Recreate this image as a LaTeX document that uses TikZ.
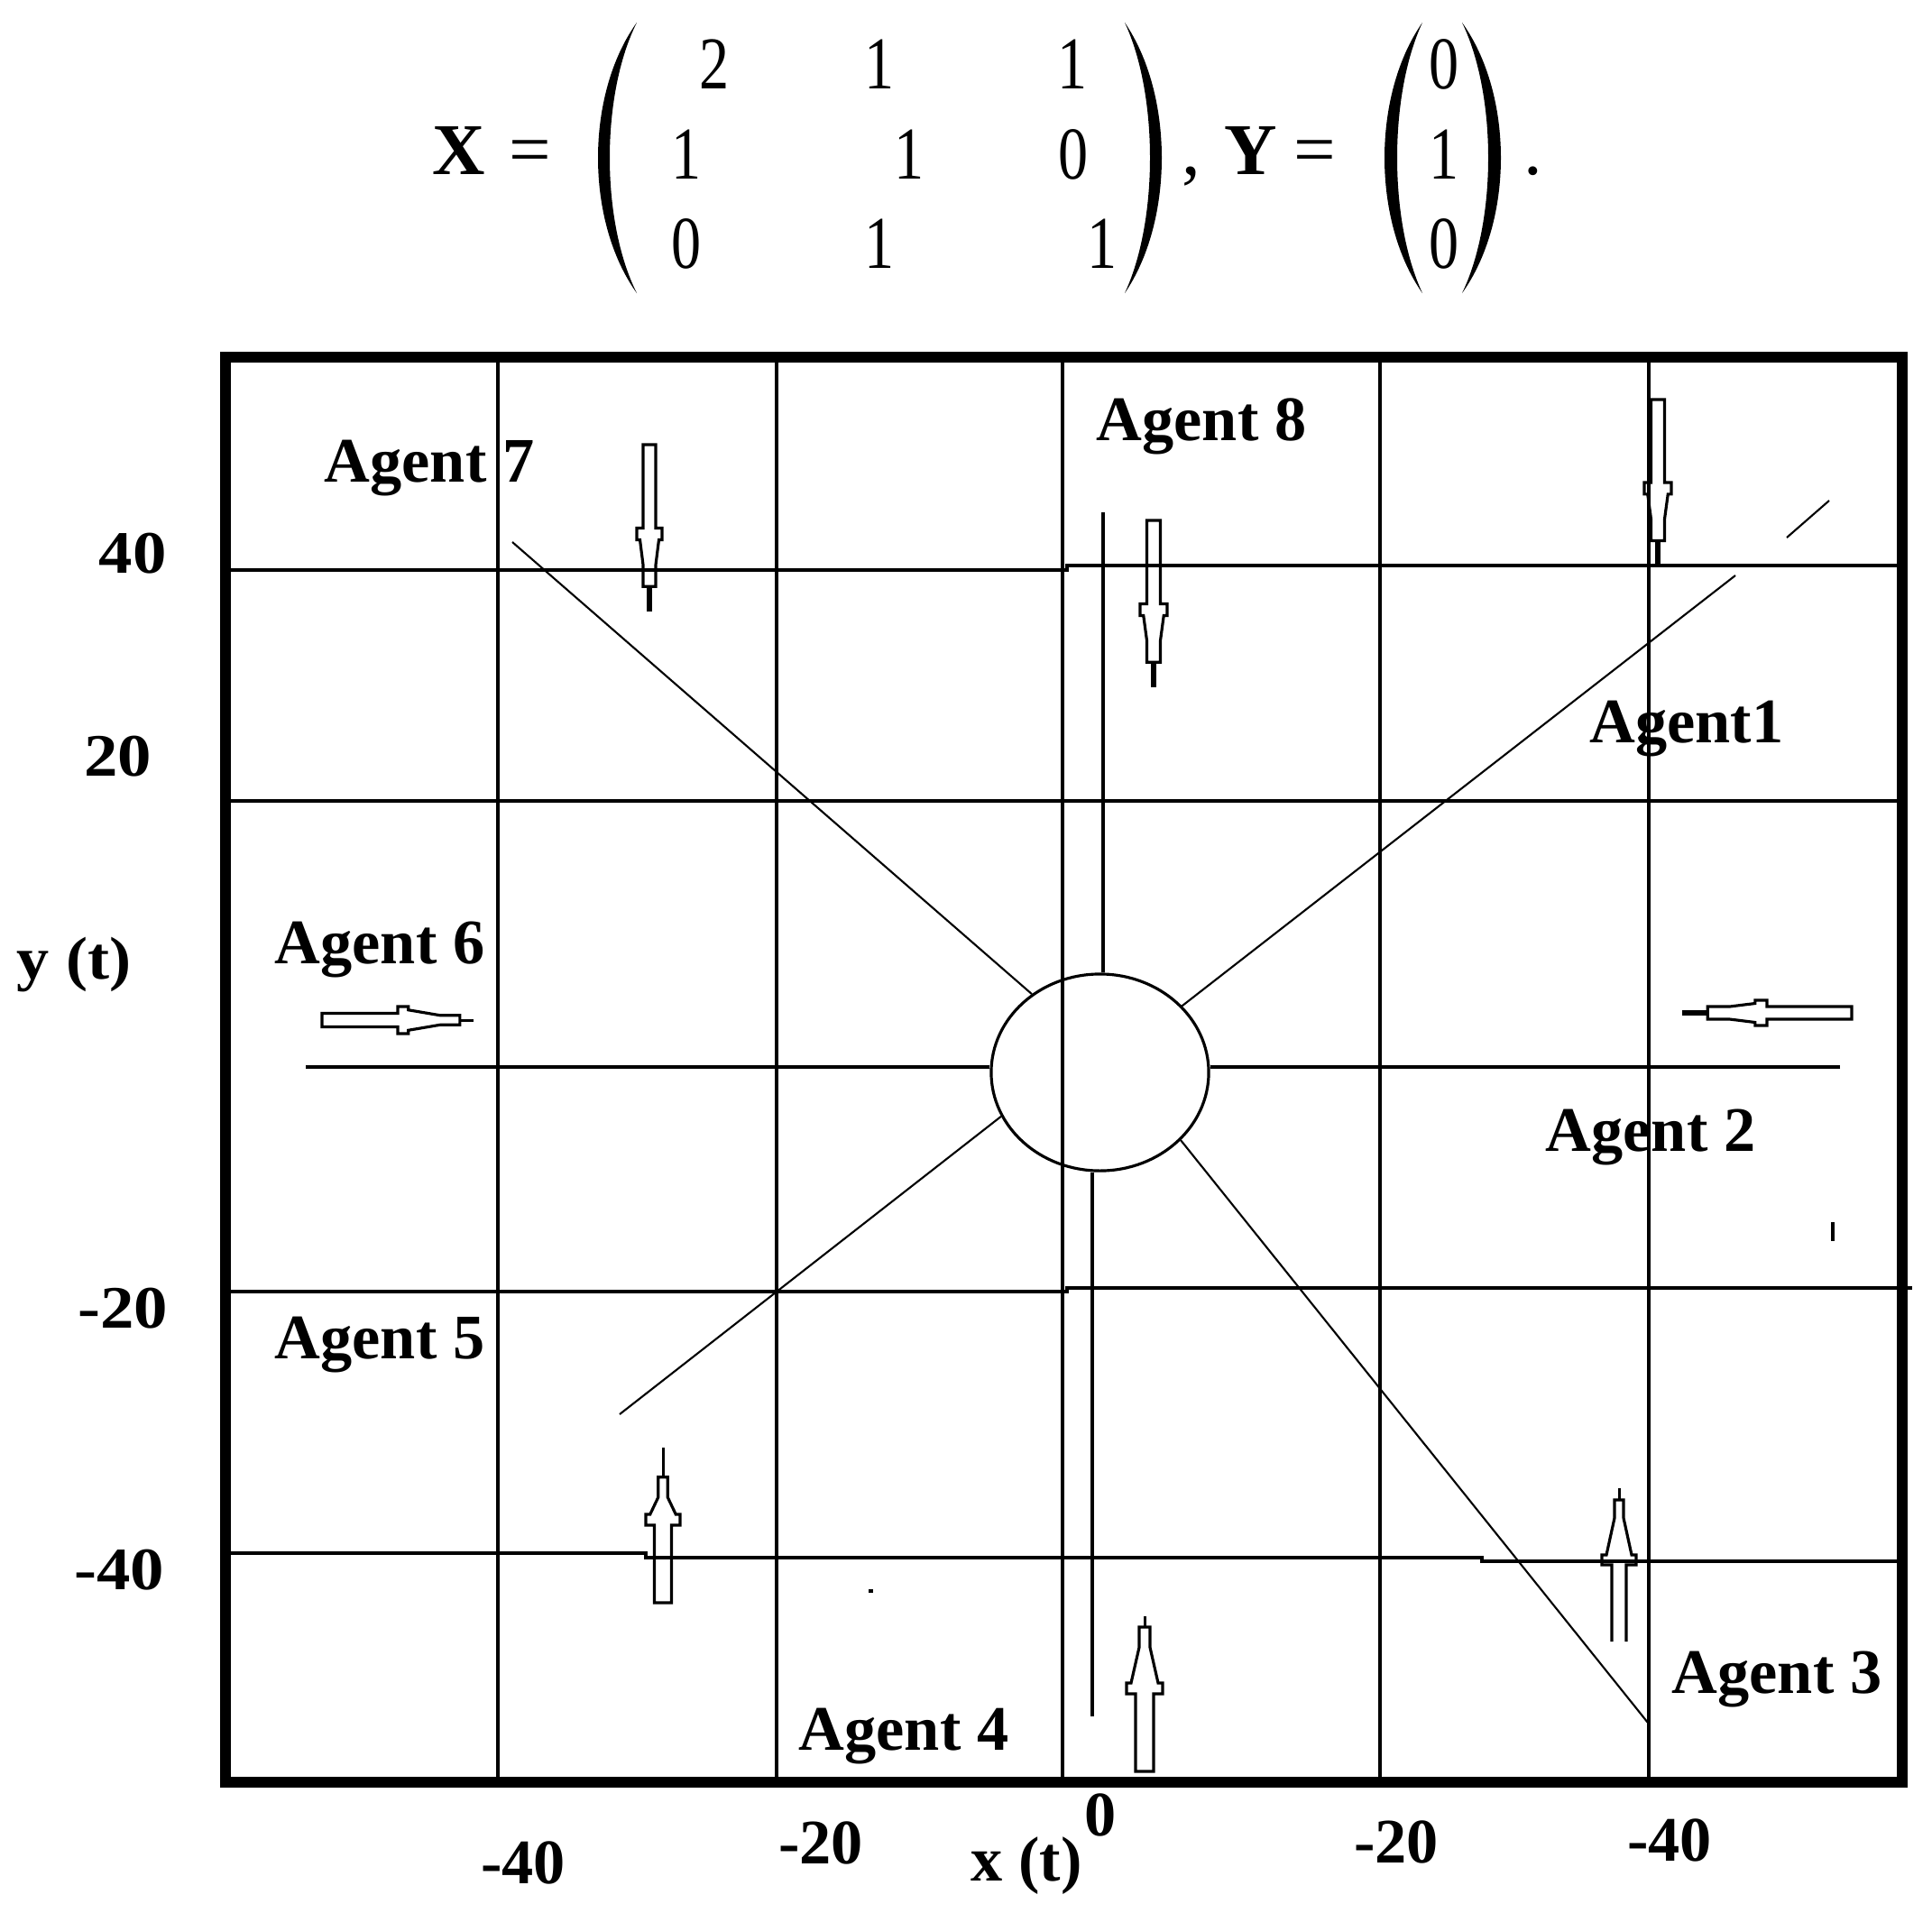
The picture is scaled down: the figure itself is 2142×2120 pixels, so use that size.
\documentclass[tikz,border=0pt]{standalone}
\usepackage{graphicx}
\usepackage{fontspec}
\setmainfont{Liberation Serif}
\usetikzlibrary{shapes.geometric}
\tikzset{
  gridline/.style={line width=1pt},
  frameline/.style={line width=3.4pt},
  diagline/.style={line width=0.6pt},
  arrowline/.style={line width=0.9pt, line join=miter},
  agentlabel/.style={anchor=base, inner sep=0pt, font=\fontsize{20}{24}\selectfont\bfseries},
  xlab/.style={anchor=base, inner sep=0pt, font=\fontsize{20}{24}\selectfont\bfseries},
  ylab/.style={anchor=base, inner sep=0pt, font=\fontsize{19}{23}\selectfont\bfseries},
  mentry/.style={anchor=base, inner sep=0pt, font=\fontsize{23.5}{28}\selectfont},
  mletter/.style={anchor=base, inner sep=0pt, font=\fontsize{23}{28}\selectfont\bfseries},
}
% hollow agent arrow: tail x, tail y, angle, length, half width, narrow factor, tip width, narrow end
\newcommand{\agarrow}[8]{%
  \begin{scope}[shift={(#1,#2)},rotate=#3]
    \draw[arrowline] (0,-#5) -- ({0.5*#4},-#5) -- ({0.5*#4},{-2*#5}) -- ({0.57*#4},{-2*#5})
      -- ({0.57*#4},{-1.5*#5}) -- ({(#8-0.13)*#4},{-#6*#5}) -- ({#8*#4},{-#6*#5})
      -- ({#8*#4},{#6*#5}) -- ({(#8-0.13)*#4},{#6*#5}) -- ({0.57*#4},{1.5*#5})
      -- ({0.57*#4},{2*#5}) -- ({0.5*#4},{2*#5}) -- ({0.5*#4},#5) -- (0,#5) -- cycle;
    \draw[line width=#7] ({#8*#4},0) -- (#4,0);
  \end{scope}}
% big parenthesis: tip x, outer bulge x, inner bulge x
\newcommand{\parenshape}[3]{%
  \fill (#1,25) .. controls ({#1+(#2-#1)/0.75},105) and ({#1+(#2-#1)/0.75},245) .. (#1,325)
    .. controls ({#1+(#3-#1)/0.75},245) and ({#1+(#3-#1)/0.75},105) .. (#1,25) -- cycle;}
\begin{document}
\begin{tikzpicture}[x=0.01cm,y=-0.01cm]
\useasboundingbox (0,0) rectangle (2142,2120);

% ---------- matrix equation ----------
\node[mletter] (X) at (509,193) {X};
\node[mentry] (eqa) at (588,193) {=};
\parenshape{706}{663}{676}
\parenshape{1247}{1288}{1275}
\node[mentry] (m11) at (792,98) {\scalebox{0.8}[1]{2}};
\node[mentry] (m12) at (975,98) {\scalebox{0.8}[1]{1}};
\node[mentry] (m13) at (1189,98) {\scalebox{0.8}[1]{1}};
\node[mentry] (m21) at (761,198) {\scalebox{0.8}[1]{1}};
\node[mentry] (m22) at (1008,198) {\scalebox{0.8}[1]{1}};
\node[mentry] (m23) at (1190,198) {\scalebox{0.8}[1]{0}};
\node[mentry] (m31) at (761,297) {\scalebox{0.8}[1]{0}};
\node[mentry] (m32) at (975,297) {\scalebox{0.8}[1]{1}};
\node[mentry] (m33) at (1222,297) {\scalebox{0.8}[1]{1}};
\node[mentry] (comma) at (1321,193) {,};
\node[mletter] (Y) at (1387,193) {Y};
\node[mentry] (eqb) at (1458,193) {=};
\parenshape{1577}{1535}{1549}
\parenshape{1621}{1664}{1650}
\node[mentry] (v1) at (1601,98) {\scalebox{0.8}[1]{0}};
\node[mentry] (v2) at (1601,198) {\scalebox{0.8}[1]{1}};
\node[mentry] (v3) at (1601,297) {\scalebox{0.8}[1]{0}};
\node[mentry] (period) at (1700,193) {.};

% ---------- frame and grid ----------
\draw[frameline] (250,396) rectangle (2109,1976);
\foreach \gx in {552,861,1178,1530,1828}
  \draw[gridline] (\gx,396) -- (\gx,1976);
\draw[gridline] (250,632) -- (1183,632) -- (1183,627) -- (2109,627);
\draw[gridline] (250,888) -- (2109,888);
\draw[gridline] (250,1432) -- (1183,1432) -- (1183,1428) -- (2120,1428);
\draw[gridline] (250,1722) -- (716,1722) -- (716,1727) -- (1643,1727) -- (1643,1731) -- (2109,1731);

% ---------- central hub ----------
\node[draw, ellipse, line width=0.9pt, minimum width=2.41cm, minimum height=2.18cm, inner sep=0pt] (hub) at (1219.5,1189) {};
\coordinate (hl) at (339,1183);
\coordinate (hr) at (2040,1183);
\draw[gridline] (hl) -- (hl -| hub.west);
\draw[gridline] (hr) -- (hr -| hub.east);
\coordinate (vt) at (1223,568);
\coordinate (vb) at (1211,1903);
\draw[gridline] (vt) -- (vt |- hub.north);
\draw[gridline] (vb) -- (vb |- hub.south);
\coordinate (d7) at (568,601);
\coordinate (d1) at (1924,638);
\coordinate (d5) at (687,1568);
\coordinate (d3) at (1827,1910);
\draw[diagline] (d7) -- (hub.131);
\draw[diagline] (d1) -- (hub.39);
\draw[diagline] (d5) -- (hub.204);
\draw[diagline] (d3) -- (hub.320);
\coordinate (s1) at (1981,596);
\coordinate (s2) at (2028,555);
\draw[diagline] (s1) -- (s2);
\draw[line width=1.1pt] (2032,1355) -- (2032,1376);
\fill (963,1762) rectangle (968,1766);

% ---------- agent arrows ----------
\agarrow{720}{493}{-90}{185}{7}{1}{1.7pt}{0.85}
\agarrow{1279}{577}{-90}{185}{7.5}{1}{1.7pt}{0.85}
\agarrow{1838}{443}{-90}{184}{7.5}{1}{1.7pt}{0.85}
\agarrow{2053}{1123}{180}{188}{7}{1}{1.7pt}{0.85}
\agarrow{357}{1131}{0}{168}{7.5}{0.7}{0.85pt}{0.91}
\agarrow{735}{1777}{90}{172}{9.5}{0.55}{0.85pt}{0.81}
\agarrow{1269}{1964}{90}{172}{10}{0.6}{0.85pt}{0.93}
\begin{scope}[shift={(1795,1820)},rotate=90]
  \draw[arrowline] (0,-8) -- (85,-8) -- (85,-19) -- (96,-19) -- (96,-14) -- (137,-5) -- (157,-5)
    -- (157,5) -- (137,5) -- (96,14) -- (96,19) -- (85,19) -- (85,8) -- (0,8);
  \draw[line width=0.85pt] (157,0) -- (170,0);
\end{scope}

% ---------- agent labels ----------
\node[agentlabel] (lab7) at (476,534) {Agent 7};
\node[agentlabel] (lab8) at (1332,488) {Agent 8};
\node[agentlabel] (lab1) at (1870,823) {Agent1};
\node[agentlabel] (lab6) at (421,1068) {Agent 6};
\node[agentlabel] (lab2) at (1830,1276) {Agent 2};
\node[agentlabel] (lab5) at (421,1506) {Agent 5};
\node[agentlabel] (lab4) at (1002,1940) {Agent 4};
\node[agentlabel] (lab3) at (1970,1877) {Agent 3};

% ---------- axis labels ----------
\node[ylab] (ya) at (147,635) {\scalebox{1.12}[1]{40}};
\node[ylab] (yb) at (131,860) {\scalebox{1.12}[1]{20}};
\node[ylab] (yt) at (82,1085) {\scalebox{1.08}[1]{y (t)}};
\node[ylab] (yc) at (136,1472) {\scalebox{1.12}[1]{-20}};
\node[ylab] (yd) at (132,1762) {\scalebox{1.12}[1]{-40}};
\node[xlab] (xa) at (580,2088) {-40};
\node[xlab] (xb) at (910,2066) {-20};
\node[xlab] (xt) at (1138,2085) {x (t)};
\node[xlab] (xz) at (1220,2035) {0};
\node[xlab] (xc) at (1548,2065) {-20};
\node[xlab] (xd) at (1851,2063) {-40};
\end{tikzpicture}
\end{document}
